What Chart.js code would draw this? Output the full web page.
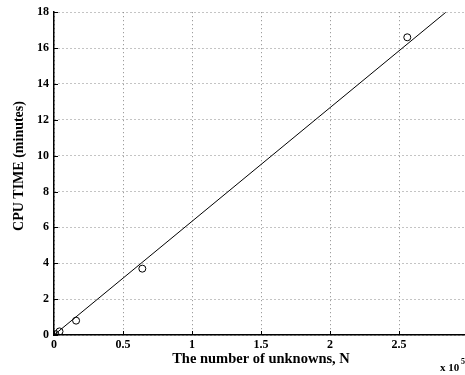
<!DOCTYPE html>
<html>
<head>
<meta charset="utf-8">
<script src="https://cdn.jsdelivr.net/npm/chart.js@4.4.1/dist/chart.umd.min.js"></script>
<style>
	html, body { margin: 0; padding: 0; background: #fff; overflow: hidden; }
	#wrap { width: 474px; height: 375px; }
</style>
</head>
<body>
<div id="wrap"><canvas id="cpuChart"></canvas></div>
<script>
	'use strict';

	// measured runs (N in units of 10^5, time in minutes)
	var unknowns = [0.01, 0.04, 0.16, 0.64, 2.56];
	var cpuMinutes = [0.05, 0.2, 0.8, 3.7, 16.6];

	// linear fit through the origin
	var fitX = [0, 2.84];
	var fitY = [0, 18];

	var xTicks = [0, 0.5, 1, 1.5, 2, 2.5, 3];
	var yTicks = [0, 2, 4, 6, 8, 10, 12, 14, 16, 18];

	var serif = '"Liberation Serif", "Times New Roman", serif';

	function toPoints(xs, ys){
		return xs.map(function(x, i){ return { x: x, y: ys[i] }; });
	}

	function plainLabel(value){
		return String(value);
	}

	// inward ticks, the y title and the exponent note under the x axis
	var axisExtras = {
		id: 'axisExtras',
		afterDraw: function(chart){
			var ctx = chart.ctx;
			var area = chart.chartArea;
			var xs = chart.scales.x;
			var ys = chart.scales.y;
			ctx.save();
			ctx.strokeStyle = '#000';
			ctx.lineWidth = 1;
			ctx.beginPath();
			xTicks.forEach(function(v){
				var px = Math.round(xs.getPixelForValue(v)) + 0.5;
				ctx.moveTo(px, area.bottom);
				ctx.lineTo(px, area.bottom - 4);
			});
			yTicks.forEach(function(v){
				var py = Math.round(ys.getPixelForValue(v)) + 0.5;
				ctx.moveTo(area.left, py);
				ctx.lineTo(area.left + 4, py);
			});
			ctx.stroke();

			ctx.fillStyle = '#000';
			ctx.save();
			ctx.translate(19, 166);
			ctx.rotate(-Math.PI / 2);
			ctx.textAlign = 'center';
			ctx.textBaseline = 'middle';
			ctx.font = 'bold 14px ' + serif;
			ctx.fillText('CPU TIME (minutes)', 0, 0);
			ctx.restore();

			ctx.textBaseline = 'alphabetic';
			ctx.font = 'bold 11px ' + serif;
			ctx.fillText('x 10', 440, 371);
			ctx.font = 'bold 8px ' + serif;
			ctx.fillText('5', 461, 364);
			ctx.restore();
		}
	};

	var el = document.getElementById('cpuChart').getContext('2d');
	var cpuChart = new Chart(el, {
		type: 'scatter',
		data: {
			datasets: [{
				type: 'line',
				data: toPoints(fitX, fitY),
				borderColor: '#000',
				borderWidth: 1,
				pointRadius: 0,
				fill: false
			}, {
				data: toPoints(unknowns, cpuMinutes),
				borderColor: '#000',
				backgroundColor: 'rgba(0,0,0,0)',
				borderWidth: 1,
				pointRadius: 3.5
			}]
		},
		options: {
			responsive: true,
			maintainAspectRatio: false,
			animation: false,
			layout: { padding: { top: 12, left: 0, right: 0, bottom: 0 } },
			plugins: {
				legend: { display: false },
				tooltip: { enabled: false }
			},
			scales: {
				x: {
					type: 'linear',
					min: 0,
					max: 3,
					afterBuildTicks: function(scale){
						scale.ticks = xTicks.map(function(v){ return { value: v }; });
					},
					afterFit: function(scale){ scale.height = 40; },
					grid: {
						color: '#888',
						lineWidth: 1,
						drawTicks: false
					},
					border: { display: true, color: '#000', width: 1.5, dash: [1, 3] },
					ticks: {
						color: '#000',
						padding: 3,
						maxRotation: 0,
						callback: plainLabel,
						font: { family: serif, size: 12, weight: 'bold' }
					},
					title: {
						display: true,
						text: 'The number of unknowns, N',
						color: '#000',
						padding: { top: 0, bottom: 7 },
						font: { family: serif, size: 14.5, weight: 'bold' }
					}
				},
				y: {
					type: 'linear',
					min: 0,
					max: 18,
					afterBuildTicks: function(scale){
						scale.ticks = yTicks.map(function(v){ return { value: v }; });
					},
					afterFit: function(scale){ scale.width = 54; },
					grid: {
						color: '#888',
						lineWidth: 1,
						drawTicks: false
					},
					border: { display: true, color: '#000', width: 1.5, dash: [1, 3] },
					ticks: {
						color: '#000',
						padding: 5,
						callback: plainLabel,
						font: { family: serif, size: 12, weight: 'bold' }
					}
				}
			}
		},
		plugins: [axisExtras]
	});
</script>
</body>
</html>
